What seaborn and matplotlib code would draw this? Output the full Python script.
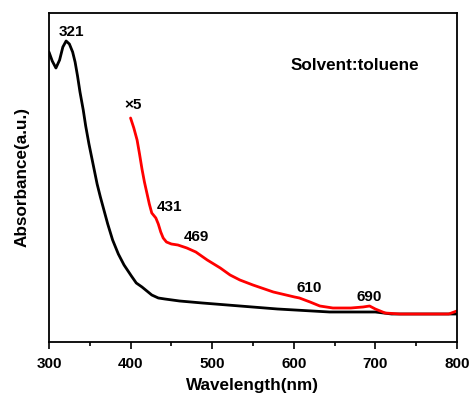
import numpy as np
import pandas as pd
import seaborn as sns
import matplotlib.pyplot as plt
from matplotlib.ticker import MultipleLocator

# black: full spectrum
wl_black = [300, 304, 308.5, 313, 317, 321, 325, 329, 332, 335, 338, 342, 345, 349, 353, 356,
            359, 363, 368, 372, 378, 385, 392, 401, 407, 414, 420, 426, 434, 442, 460, 488,
            534, 580, 644, 700, 720, 800]
abs_black = [2.90, 2.81, 2.74, 2.82, 2.95, 3.01, 2.98, 2.90, 2.80, 2.66, 2.50, 2.32, 2.16, 1.98, 1.82, 1.70,
             1.58, 1.45, 1.30, 1.18, 1.02, 0.88, 0.77, 0.66, 0.59, 0.55, 0.51, 0.47, 0.44, 0.43, 0.41, 0.39,
             0.36, 0.33, 0.30, 0.30, 0.28, 0.28]

# red: x5 magnified part
wl_red = [400, 404, 408, 411, 414, 417, 420, 423, 426, 431, 434, 437, 440, 444, 450, 458, 469, 480,
          494, 510, 522, 534, 550, 575, 601, 607, 620, 632, 648, 670, 685, 693, 700, 712, 730,
          760, 790, 800]
abs_red = [2.24, 2.14, 2.02, 1.88, 1.73, 1.60, 1.49, 1.38, 1.29, 1.24, 1.18, 1.10, 1.04, 1.00, 0.98, 0.97, 0.94, 0.90,
           0.82, 0.74, 0.67, 0.62, 0.57, 0.50, 0.45, 0.44, 0.40, 0.36, 0.34, 0.34, 0.35, 0.36, 0.33, 0.29, 0.28,
           0.28, 0.28, 0.31]

peak_labels = ['321', '×5', '431', '469', '610', '690']
peak_x = [328, 403, 448, 481, 619, 693]
peak_y = [3.10, 2.37, 1.35, 1.05, 0.54, 0.45]

sns.set_style('ticks')
plt.rcParams['font.family'] = ['Liberation Sans', 'DejaVu Sans']
plt.rcParams['font.weight'] = 'bold'
plt.rcParams['text.color'] = 'black'
plt.rcParams['axes.labelcolor'] = 'black'
plt.rcParams['xtick.color'] = 'black'
plt.rcParams['axes.edgecolor'] = 'black'

fig = plt.figure(figsize=(4.71, 3.94), dpi=100)
ax = fig.add_axes([0.104, 0.132, 0.866, 0.835])

sns.lineplot(x=wl_black, y=abs_black, color='black', linewidth=2, ax=ax)
sns.lineplot(x=wl_red, y=abs_red, color='#ff0000', linewidth=2, ax=ax)

# peak annotations
for lab, px, py in zip(peak_labels, peak_x, peak_y):
    ax.text(px, py, lab, ha='center', va='center', fontsize=11, fontweight='bold')
ax.text(675, 2.77, 'Solvent:toluene', ha='center', va='center', fontsize=12.3, fontweight='bold')

ax.set_xlim(300, 800)
ax.set_ylim(0, 3.29)
ax.xaxis.set_major_locator(MultipleLocator(100))
ax.xaxis.set_minor_locator(MultipleLocator(50))
ax.tick_params(axis='x', which='major', length=5, width=1.2, labelsize=11, pad=6)
ax.tick_params(axis='x', which='minor', length=3, width=1.2)
ax.set_yticks([])
for lbl in ax.get_xticklabels():
    lbl.set_fontweight('bold')
for s in ax.spines.values():
    s.set_visible(True)
    s.set_linewidth(1.3)

ax.set_xlabel('Wavelength(nm)', fontsize=12.3, fontweight='bold', labelpad=5)
ax.set_ylabel('Absorbance(a.u.)', fontsize=12.3, fontweight='bold', labelpad=14)

fig.savefig('out.png', dpi=100)
